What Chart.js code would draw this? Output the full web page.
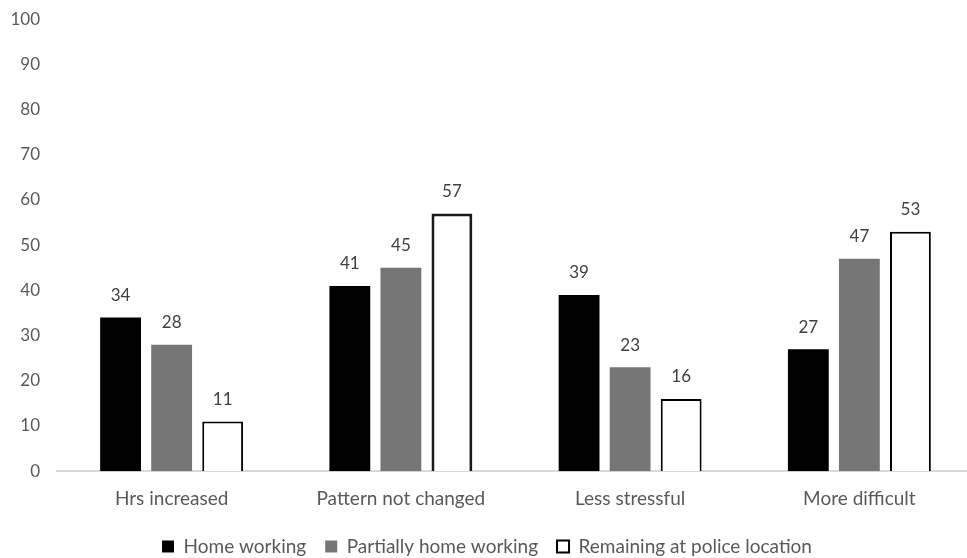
<!DOCTYPE html>
<html>
<head>
<meta charset="utf-8">
<script src="https://cdn.jsdelivr.net/npm/chart.js@4"></script>
<style>
  html, body { margin: 0; padding: 0; background: #ffffff; overflow: hidden; }
  #wrap { position: relative; width: 1000px; height: 566px; }
</style>
</head>
<body>
<div id="wrap"><canvas id="grafico"></canvas></div>
<script>
// Categorias e séries
const categorias = ["Hrs increased", "Pattern not changed", "Less stressful", "More difficult"];
const homeWorking = [34, 41, 39, 27];
const partiallyHome = [28, 45, 23, 47];
const remainingPolice = [11, 57, 16, 53];
const yTicks = [0, 10, 20, 30, 40, 50, 60, 70, 80, 90, 100];

const fonte = "Lato, 'Open Sans', sans-serif";

// Rótulos acima das barras
const rotulos = {
  id: "rotulos",
  afterDatasetsDraw(chart) {
    const ctx = chart.ctx;
    ctx.save();
    ctx.font = "17px " + fonte;
    ctx.fillStyle = "#404040";
    ctx.textAlign = "center";
    ctx.textBaseline = "middle";
    chart.data.datasets.forEach((ds, i) => {
      chart.getDatasetMeta(i).data.forEach((bar, j) => {
        ctx.fillText(ds.data[j], bar.x, bar.y - 22);
      });
    });
    ctx.restore();
  }
};

new Chart(document.getElementById("grafico"), {
  type: "bar",
  data: {
    labels: categorias,
    datasets: [
      {
        label: "Home working",
        data: homeWorking,
        backgroundColor: "#000000",
        borderColor: "#000000",
        borderWidth: 0
      },
      {
        label: "Partially home working",
        data: partiallyHome,
        backgroundColor: "#767676",
        borderColor: "#767676",
        borderWidth: 0
      },
      {
        label: "Remaining at police location",
        data: remainingPolice,
        backgroundColor: "#ffffff",
        borderColor: ["#000000", "#1a1a1a", "#000000", "#000000"],
        borderWidth: [2, 3, 2, 2]
      }
    ]
  },
  options: {
    responsive: true,
    maintainAspectRatio: false,
    animation: false,
    layout: { padding: { left: 0, right: 26, top: 0, bottom: 0 } },
    datasets: {
      bar: { categoryPercentage: 0.668, barPercentage: 0.8 }
    },
    plugins: {
      legend: {
        position: "bottom",
        labels: {
          color: "#595959",
          font: { family: fonte, size: 19 },
          boxWidth: 12,
          boxHeight: 12,
          padding: 19
        }
      },
      tooltip: { enabled: false }
    },
    scales: {
      y: {
        min: 0,
        max: 100,
        afterBuildTicks: axis => { axis.ticks = yTicks.map(v => ({ value: v })); },
        afterFit: axis => { axis.width = 57; },
        ticks: {
          color: "#595959",
          font: { family: fonte, size: 17 },
          padding: 9
        },
        grid: { display: false },
        border: { display: false }
      },
      x: {
        ticks: {
          color: "#595959",
          font: { family: fonte, size: 19 },
          padding: 8
        },
        grid: { display: false },
        border: { display: true, color: "#d9d9d9", width: 2 }
      }
    }
  },
  plugins: [rotulos]
});
</script>
</body>
</html>
